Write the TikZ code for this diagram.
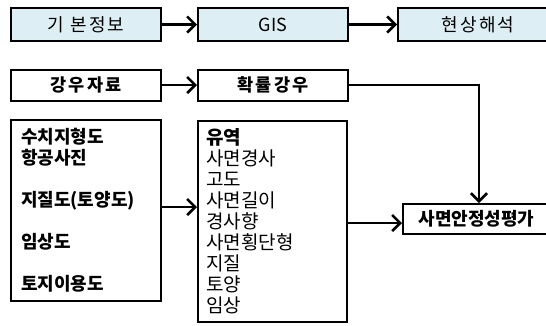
\documentclass[tikz,border=0pt]{standalone}
\usepackage{fontspec}
\setmainfont{Noto Sans CJK KR}
\newfontfamily\krsp[LetterSpace=12]{Noto Sans CJK KR}
\usetikzlibrary{arrows.meta}
\definecolor{topfill}{HTML}{DDEFF5}
\tikzset{
  box/.style={draw=black, line width=2pt, rectangle, inner sep=0pt, fill=white},
  topbox/.style={box, fill=topfill, minimum width=150pt, minimum height=33pt, font=\krsp\fontsize{18}{20}\selectfont},
  midbox/.style={box, minimum width=150pt, minimum height=31pt, font=\bfseries\krsp\fontsize{17.5}{20}\selectfont},
  arr/.style={line width=2.6pt, -{Straight Barb[length=8pt,width=16pt,line width=2.6pt]}},
}
\begin{document}
\begin{tikzpicture}[x=1pt,y=-1pt]
\useasboundingbox (0,0) rectangle (546,325);
\clip (0,0) rectangle (546,325);
% row 1
\node[topbox] (gi) at (86,24.5) {기 본정보};
\node[topbox, font=\fontsize{18}{20}\selectfont] (gis) at (273,24.5) {GIS};
\node[topbox, minimum width=160pt] (hs) at (478,24.5) {현상해석};
\draw[arr] (gi.east) -- (gis.west);
\draw[arr] (gis.east) -- (hs.west);
% row 2
\node[midbox] (rain) at (86,85) {강우자료};
\node[midbox] (prob) at (273,85) {확률강우};
\draw[arr] (rain.east) -- (prob.west);
% row 3
\node[box, minimum width=150pt, minimum height=181pt, text width=130pt, align=left,
      font=\bfseries\fontsize{18}{21}\selectfont] (src) at (86,210.5)
  {수치지형도\\항공사진\\[21pt]지질도(토양도)\\[21pt]임상도\\[21pt]토지이용도};
\node[box, minimum width=149pt, minimum height=201pt, text width=132pt, align=left,
      font=\fontsize{19}{21}\selectfont] (lay) at (272.5,221.5)
  {\textbf{유역}\\사면경사\\고도\\사면길이\\경사향\\사면횡단형\\지질\\토양\\임상};
\node[box, minimum width=152pt, minimum height=30pt, font=\bfseries\fontsize{18}{20}\selectfont] (fin) at (479,219) {\hspace*{-5pt}사면안정성평가};
\draw[arr] ([yshift=3.5pt]src.east) -- ([yshift=3.5pt]src.east -| lay.west);
\draw[arr] ([yshift=-1.5pt]lay.east) -- ([yshift=-1.5pt]lay.east -| fin.west);
\draw[arr] (prob.east) -| (fin.north);
\end{tikzpicture}
\end{document}
